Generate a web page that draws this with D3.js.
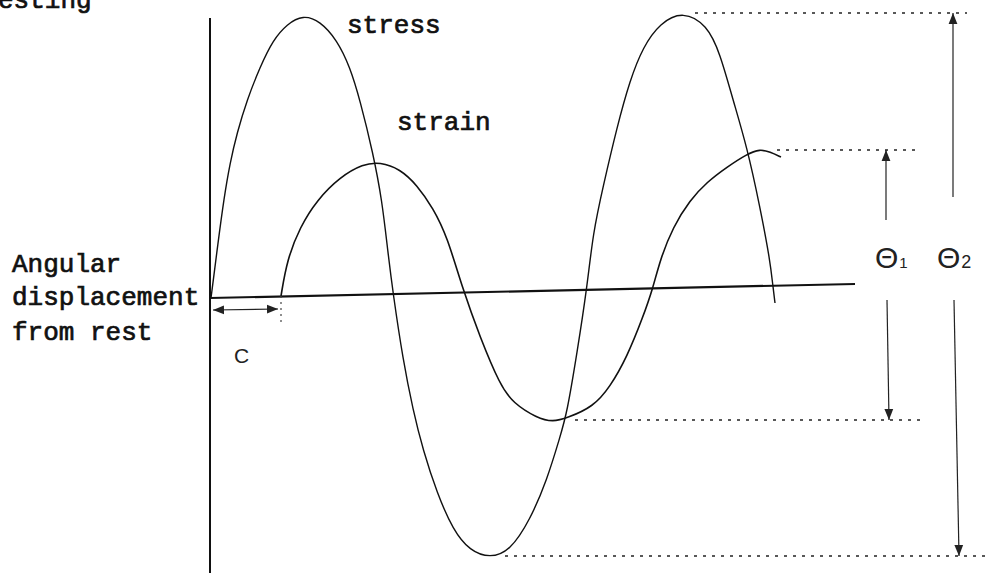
<!DOCTYPE html>
<html>
<head>
<meta charset="utf-8">
<script src="https://cdn.jsdelivr.net/npm/d3@7"></script>
<style>
  body { margin: 0; background: #fff; }
  svg { display: block; }
  .mono { font-family: "Liberation Mono", "DejaVu Sans Mono", monospace; font-size: 26px; fill: #111; stroke: #111; stroke-width: 0.7px; }
  .sans { font-family: "Liberation Sans Narrow", "Liberation Sans", sans-serif; fill: #222; }
</style>
</head>
<body>
<div id="chart"></div>
<script>
/* Stress / strain phase lag sketch (torsion testing) */

// time along the rest line, displacement above rest (positive up)
const stressT = [1, 8, 14, 20, 27, 37, 50, 63, 77, 93, 110, 127, 140, 150, 163, 172, 178, 183, 193, 203, 213, 227, 243, 260, 280, 300, 320, 337, 350, 357, 367, 377, 383, 393, 407, 420, 433, 450, 473, 497, 510, 523, 537, 550, 560, 563, 565];
const stressV = [0, 55, 100, 135, 165, 198, 231, 258, 274, 283, 277, 258, 231, 198, 145, 98, 45, 5, -62, -112, -152, -195, -232, -253, -260, -253, -222, -182, -139, -115, -55, 10, 65, 111, 171, 218, 251, 275, 287, 273, 245, 198, 151, 91, 38, 11, -5];

const strainT = [71, 77, 90, 107, 130, 153, 170, 190, 207, 223, 237, 253, 270, 290, 303, 327, 343, 357, 383, 400, 417, 433, 443, 450, 463, 480, 497, 517, 537, 550, 560, 571];
const strainV = [2, 38, 71, 98, 121, 134, 136, 129, 113, 90, 62, 8, -39, -87, -105, -120, -124, -120, -109, -89, -59, -19, 10, 38, 71, 98, 116, 131, 144, 149, 146, 141];

// rest line (drawn slightly tilted) and the vertical axis
const restT = [0, 645];
const restV = [0, 14];
const axisV = [280, -275];

// amplitude guides: level, start, end
const guideV = [285, 148, -122, -258];
const guideFrom = [485, 567, 365, 295];
const guideTo = [757, 710, 710, 775];

// phase lag C
const lagT = [3, 68];
const lagTick = 71;

// amplitude arrows: theta1 = strain, theta2 = stress
const thetaLabels = ["1", "2"];
const thetaT = [676, 743];
const thetaTop = [148, 285];
const thetaBottom = [-122, -258];

const width = 985, height = 573;

const svg = d3.select("#chart").append("svg")
  .attr("width", width).attr("height", height)
  .attr("viewBox", [0, 0, width, height]);

const x = d3.scaleLinear().domain([0, 645]).range([210, 855]);
const y = d3.scaleLinear().domain([0, 298]).range([298, 0]);

const defs = svg.append("defs");
defs.append("marker")
  .attr("id", "head")
  .attr("viewBox", "0 -5 10 10")
  .attr("refX", 10).attr("refY", 0)
  .attr("markerWidth", 11).attr("markerHeight", 11)
  .attr("markerUnits", "userSpaceOnUse")
  .attr("orient", "auto-start-reverse")
  .append("path")
  .attr("d", "M0,-4L10,0L0,4Z")
  .attr("fill", "#222");

const line = d3.line().x(d => x(d[0])).y(d => y(d[1]));
const curve = d3.line().x(d => x(d[0])).y(d => y(d[1])).curve(d3.curveBasis);

// axes
svg.append("path")
  .attr("d", line([[0, axisV[0]], [0, axisV[1]]]))
  .attr("stroke", "#111").attr("stroke-width", 2).attr("fill", "none");

svg.append("path")
  .attr("d", line(restT.map((t, i) => [t, restV[i]])))
  .attr("stroke", "#111").attr("stroke-width", 2.2).attr("fill", "none");

// dotted guides
svg.selectAll(".guide")
  .data(guideV)
  .join("path")
  .attr("class", "guide")
  .attr("d", (v, i) => line([[guideFrom[i], v], [guideTo[i], v]]))
  .attr("stroke", "#222").attr("stroke-width", 1.3)
  .attr("stroke-dasharray", "3,6").attr("fill", "none");

// curves
svg.append("path")
  .attr("d", curve(stressT.map((t, i) => [t, stressV[i]])))
  .attr("stroke", "#111").attr("stroke-width", 1.4).attr("fill", "none");

svg.append("path")
  .attr("d", curve(strainT.map((t, i) => [t, strainV[i]])))
  .attr("stroke", "#111").attr("stroke-width", 1.6).attr("fill", "none");

// lag C
svg.append("path")
  .attr("d", line([[lagT[0], -12], [lagT[1], -11]]))
  .attr("stroke", "#222").attr("stroke-width", 1.2).attr("fill", "none")
  .attr("marker-start", "url(#head)").attr("marker-end", "url(#head)");

svg.append("path")
  .attr("d", line([[lagTick, 2], [lagTick, -24]]))
  .attr("stroke", "#444").attr("stroke-width", 1.2)
  .attr("stroke-dasharray", "2,4").attr("fill", "none");

svg.append("text")
  .attr("class", "sans")
  .attr("x", x(24)).attr("y", y(-65))
  .style("font-size", "21px")
  .text("C");

// theta arrows, split around the label
thetaT.forEach((t, i) => {
  const gapTop = i === 0 ? 78 : 101;
  svg.append("path")
    .attr("d", line([[t, gapTop], [t, thetaTop[i]]]))
    .attr("stroke", "#222").attr("stroke-width", 1.2).attr("fill", "none")
    .attr("marker-end", "url(#head)");
  svg.append("path")
    .attr("d", line([[t + 1, -2], [t + 3 + i * 3, thetaBottom[i]]]))
    .attr("stroke", "#222").attr("stroke-width", 1.2).attr("fill", "none")
    .attr("marker-end", "url(#head)");

  const lab = svg.append("text")
    .attr("class", "sans")
    .attr("x", x(t) - 11 + (i === 0 ? 0 : -5))
    .attr("y", y(30))
    .style("font-size", "30px");
  lab.append("tspan").text("\u0398");
  lab.append("tspan")
    .style("font-size", i === 0 ? "15px" : "18px")
    .attr("dx", 1)
    .text(thetaLabels[i]);
});

// labels
svg.append("text").attr("class", "mono").attr("x", -2).attr("y", 8).text("esting");
svg.append("text").attr("class", "mono").attr("x", 347).attr("y", 33).text("stress");
svg.append("text").attr("class", "mono").attr("x", 397).attr("y", 130).text("strain");
svg.append("text").attr("class", "mono").attr("x", 12).attr("y", 272).text("Angular");
svg.append("text").attr("class", "mono").attr("x", 12).attr("y", 305).text("displacement");
svg.append("text").attr("class", "mono").attr("x", 12).attr("y", 340).text("from rest");
</script>
</body>
</html>
